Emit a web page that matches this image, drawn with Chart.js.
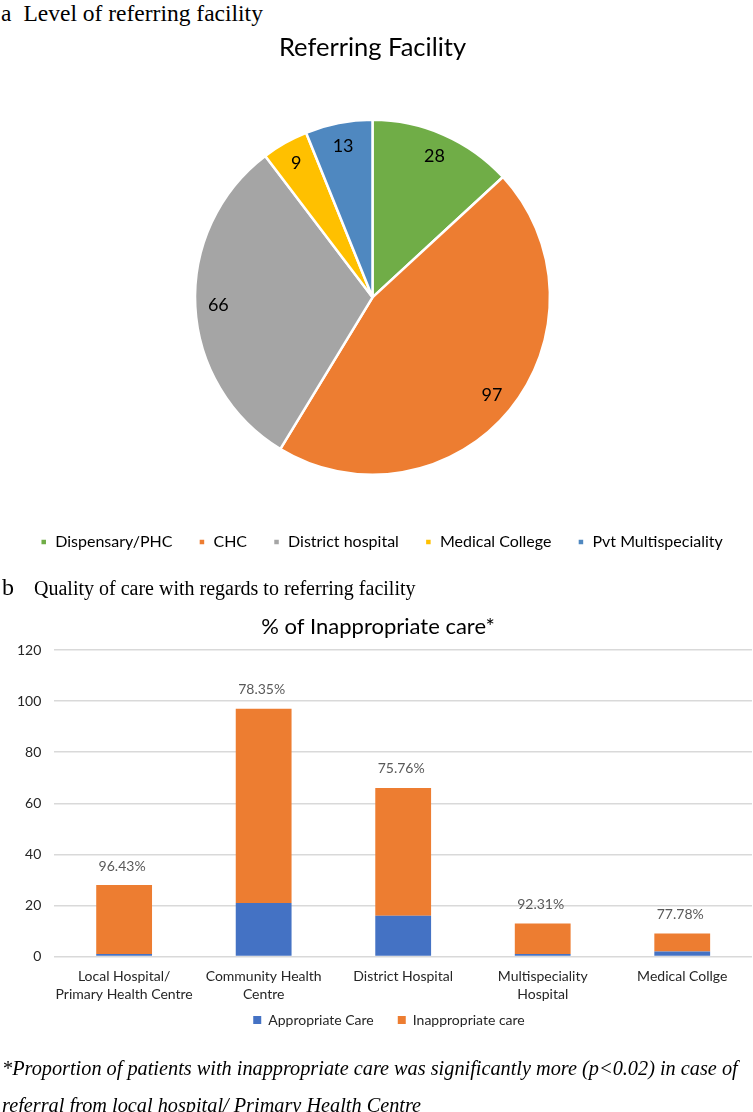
<!DOCTYPE html>
<html>
<head>
<meta charset="utf-8">
<script src="https://cdn.jsdelivr.net/npm/chart.js@4.4.1/dist/chart.umd.min.js"></script>
<style>
  html, body { margin: 0; padding: 0; background: #fff; }
  body { width: 753px; height: 1112px; position: relative; overflow: hidden; }
  .cap { position: absolute; font-family: "Liberation Serif", "DejaVu Serif", serif; color: #000; white-space: nowrap; }
  .box { position: absolute; left: 0; width: 753px; }
</style>
</head>
<body>
<div class="cap" style="left:1px; top:0px; font-size:23.5px;">a<span style="margin-left:12px;">Level of referring facility</span></div>
<div class="box" style="top:20px; height:560px;"><canvas id="pie"></canvas></div>
<div class="box" style="top:600px; height:463px;"><canvas id="bar"></canvas></div>
<div class="cap" style="left:2px; top:574px; font-size:20px;"><span style="font-size:24px;">b</span><span style="margin-left:20px;">Quality of care with regards to referring facility</span></div>
<div class="cap" style="left:2px; top:1050px; font-size:20.3px; font-style:italic; line-height:37px;">*Proportion of patients with inappropriate care was significantly more (p&lt;0.02) in case of<br>referral from local hospital/ Primary Health Centre</div>

<script>
// ---------- data ----------
const pieLabels = ['Dispensary/PHC', 'CHC', 'District hospital', 'Medical College', 'Pvt Multispeciality'];
const pieValues = [28, 97, 66, 9, 13];
const pieColors = ['#70AD47', '#ED7D31', '#A5A5A5', '#FFC000', '#4F88C0'];

const barCategories = [
  ['Local Hospital/', 'Primary Health Centre'],
  ['Community Health', 'Centre'],
  'District Hospital',
  ['Multispeciality', 'Hospital'],
  'Medical Collge'
];
const appropriateCare = [1, 21, 16, 1, 2];
const inappropriateCare = [27, 76, 50, 12, 7];
const percentLabels = ['96.43%', '78.35%', '75.76%', '92.31%', '77.78%'];
const yTicks = [0, 20, 40, 60, 80, 100, 120];

const FONT = 'Lato, "Open Sans", sans-serif';

// shifts a chart's legend box after layout (dx, dy in px)
function legendShift(dx, dy) {
  return {
    id: 'legendShift',
    afterLayout(chart) {
      const lg = chart.legend;
      if (!lg) return;
      lg.left += dx; lg.right += dx;
      lg.top += dy; lg.bottom += dy;
    }
  };
}

// ---------- pie ----------
const pieValueLabels = {
  id: 'pieValueLabels',
  afterDatasetsDraw(chart) {
    const ctx = chart.ctx;
    const meta = chart.getDatasetMeta(0);
    ctx.save();
    ctx.font = '18px ' + FONT;
    ctx.fillStyle = '#000';
    ctx.textAlign = 'center';
    ctx.textBaseline = 'middle';
    meta.data.forEach((arc, i) => {
      const p = arc.getProps(['x', 'y', 'startAngle', 'endAngle', 'outerRadius'], true);
      const mid = (p.startAngle + p.endAngle) / 2;
      const r = p.outerRadius * 0.87;
      ctx.fillText(String(chart.data.datasets[0].data[i]), p.x + Math.cos(mid) * r, p.y + Math.sin(mid) * r);
    });
    ctx.restore();
  }
};

new Chart(document.getElementById('pie'), {
  type: 'pie',
  data: {
    labels: pieLabels,
    datasets: [{
      data: pieValues,
      backgroundColor: pieColors,
      borderColor: '#fff',
      borderWidth: 2.5
    }]
  },
  options: {
    responsive: true,
    maintainAspectRatio: false,
    animation: false,
    layout: { padding: { left: 0, right: 8, top: 0, bottom: 20 } },
    plugins: {
      title: {
        display: true,
        text: 'Referring Facility',
        color: '#000',
        font: { family: FONT, size: 25.5, weight: 'normal' },
        padding: { top: 12, bottom: 56 }
      },
      legend: {
        display: true,
        position: 'bottom',
        title: { display: true, text: '', font: { size: 10 }, padding: { top: 10, bottom: 10 } },
        labels: {
          color: '#000',
          font: { family: FONT, size: 16 },
          boxWidth: 7,
          boxHeight: 7,
          padding: 26
        }
      },
      tooltip: { enabled: false }
    }
  },
  plugins: [pieValueLabels, legendShift(9, 0)]
});

// ---------- bar ----------
const barTopLabels = {
  id: 'barTopLabels',
  afterDatasetsDraw(chart) {
    const ctx = chart.ctx;
    const topMeta = chart.getDatasetMeta(1);
    ctx.save();
    ctx.font = '14px ' + FONT;
    ctx.fillStyle = '#595959';
    ctx.textAlign = 'center';
    ctx.textBaseline = 'middle';
    topMeta.data.forEach((bar, i) => {
      const p = bar.getProps(['x', 'y'], true);
      ctx.fillText(percentLabels[i], p.x - 2, p.y - 19);
    });
    ctx.restore();
  }
};

new Chart(document.getElementById('bar'), {
  type: 'bar',
  data: {
    labels: barCategories,
    datasets: [
      { label: 'Appropriate Care', data: appropriateCare, backgroundColor: '#4472C4', categoryPercentage: 0.4, barPercentage: 1 },
      { label: 'Inappropriate care', data: inappropriateCare, backgroundColor: '#ED7D31', categoryPercentage: 0.4, barPercentage: 1 }
    ]
  },
  options: {
    responsive: true,
    maintainAspectRatio: false,
    animation: false,
    layout: { padding: { left: 4, right: 1, top: 0, bottom: 0 } },
    scales: {
      x: {
        stacked: true,
        grid: { display: false, drawTicks: false },
        border: { display: false },
        ticks: { color: '#262626', font: { family: FONT, size: 14, lineHeight: 1.3 }, padding: 11, maxRotation: 0, autoSkip: false }
      },
      y: {
        stacked: true,
        min: 0,
        max: 120,
        afterBuildTicks(scale) { scale.ticks = yTicks.map(v => ({ value: v })); },
        grid: { color: '#D9D9D9', lineWidth: 1.5, drawTicks: false },
        border: { display: false },
        ticks: { color: '#262626', font: { family: FONT, size: 14 }, padding: 13 }
      }
    },
    plugins: {
      title: {
        display: true,
        text: '% of Inappropriate care*',
        color: '#000',
        font: { family: FONT, size: 22, weight: 'normal' },
        padding: { top: 14, bottom: 9.6 }
      },
      legend: {
        display: true,
        position: 'bottom',
        labels: {
          color: '#262626',
          font: { family: FONT, size: 14 },
          boxWidth: 8,
          boxHeight: 8,
          padding: 24
        }
      },
      tooltip: { enabled: false }
    }
  },
  plugins: [barTopLabels, legendShift(11, -26)]
});
</script>
</body>
</html>
